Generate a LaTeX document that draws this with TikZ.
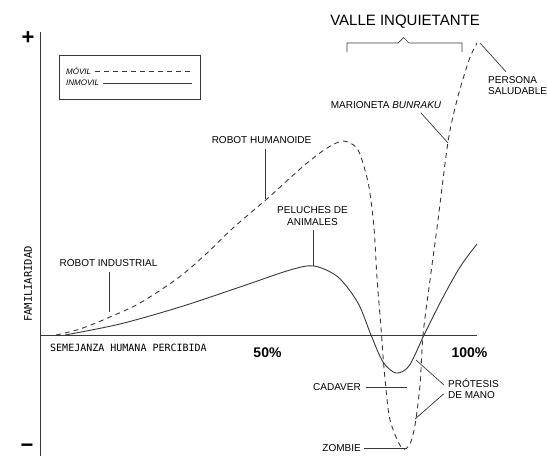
\documentclass[tikz,border=0pt]{standalone}
\usepackage{fontspec}
\setmainfont{Liberation Sans}
\setmonofont{DejaVu Sans Mono}
\definecolor{ink}{gray}{0.22}

\begin{document}
\begin{tikzpicture}[x=1pt,y=-1pt,
    tag/.style={font=\fontsize{10}{11.5}\selectfont,inner sep=2pt},
    pointer/.style={draw=ink,line width=0.7pt,shorten <=3pt},
    axis/.style={draw=ink,line width=1pt},
    movil/.style={draw=ink,line width=0.9pt,dash pattern=on 5pt off 4pt},
    inmovil/.style={draw=ink,line width=0.9pt},
    pct/.style={font=\fontsize{14}{14}\selectfont\bfseries,inner sep=0pt},
    mono/.style={font=\ttfamily\fontsize{10}{10}\selectfont,inner sep=0pt}]
  \useasboundingbox (0,0) rectangle (548,456);

  % axes
  \coordinate (o) at (40,335);
  \coordinate (ytop) at (40,32);
  \coordinate (ybot) at (40,456);
  \coordinate (xend) at (477,335);
  \draw[axis] (ytop) -- (ybot);
  \draw[axis] (o) -- (xend);
  \node[font=\fontsize{22}{22}\selectfont\bfseries,inner sep=0pt] (plus) at (28,38) {+};
  \node[font=\fontsize{22}{22}\selectfont\bfseries,inner sep=0pt] (minus) at (27,448) {−};
  \node[mono,anchor=west] (xlabel) at (50,348) {SEMEJANZA HUMANA PERCIBIDA};
  \node[mono,font=\ttfamily\fontsize{10.5}{10.5}\selectfont,rotate=90] (ylabel) at (28,284) {FAMILIARIDAD};
  \node[pct] (half) at (267.5,353) {50\%};
  \node[pct] (full) at (469.5,353) {100\%};

  % legend
  \draw[ink,line width=0.8pt] (59,55) rectangle (200,99);
  \node[font=\fontsize{8}{8}\selectfont\itshape,anchor=west,inner sep=0pt] (lmov) at (66,71) {MÓVIL};
  \node[font=\fontsize{8}{8}\selectfont\itshape,anchor=west,inner sep=0pt] (linm) at (66,83) {INMOVIL};
  \coordinate (lmov-end) at (192,71);
  \coordinate (linm-end) at (192,83);
  \draw[movil,line width=0.7pt] ([xshift=4pt]lmov.east) -- (lmov-end);
  \draw[inmovil,line width=0.7pt] ([xshift=4pt]linm.east) -- (linm-end);

  % curves
  \draw[movil] plot[smooth] coordinates {(56,335) (80,329) (110,317) (140,303)
    (178,278) (205,255) (233,228) (268,198) (290,178) (307,163) (327,148) (343,141)
    (356,147) (362,160) (369,187) (374,228) (377,278) (381,328) (384,368) (389,415)
    (396,437) (403,449) (410,444) (415,425) (420,385) (423,335) (430,280) (437,228)
    (448,142) (457,100) (469,60) (477,43)};
  \draw[inmovil] plot[smooth] coordinates {(65,335) (120,324) (180,307) (240,287)
    (290,270) (314,266) (338,277) (358,303) (371,335) (383,362) (396,373) (409,366)
    (424,335) (441,301) (460,267) (477,244)};

  % valle
  \node[font=\fontsize{15}{15}\selectfont] (valle) at (405,22) {VALLE INQUIETANTE};
  \draw[pointer,shorten <=0pt] (347,52) -- (347,43) -- (398,43) -- (403.5,37.5)
    -- (409,43) -- (462,43) -- (462,52);

  % labels
  \node[tag] (indus) at (108.5,263) {ROBOT INDUSTRIAL};
  \coordinate (indus-tip) at (109,312);
  \draw[pointer] (indus.south -| indus-tip) -- (indus-tip);

  \node[tag] (human) at (261.5,140) {ROBOT HUMANOIDE};
  \coordinate (human-tip) at (265,199);
  \draw[pointer] (human.south -| human-tip) -- (human-tip);

  \node[tag,align=center] (peluche) at (312.5,216) {PELUCHES DE\\ANIMALES};
  \coordinate (peluche-tip) at (313,266);
  \draw[pointer] (peluche.south -| peluche-tip) -- (peluche-tip);

  \node[tag] (bunraku) at (386,105) {MARIONETA \textit{BUNRAKU}};
  \coordinate (bunraku-tip) at (448,143);
  \draw[pointer] ([xshift=33pt]bunraku.south) -- (bunraku-tip);

  \node[tag,align=left,anchor=north west] (persona) at (486,74) {PERSONA\\SALUDABLE};
  \coordinate (persona-tip) at (480,43);
  \draw[pointer] ([xshift=22pt]persona.north west) -- (persona-tip);

  \node[tag,anchor=east] (cadaver) at (363,387) {CADAVER};
  \coordinate (cadaver-tip) at (407,387);
  \draw[pointer] (cadaver.east) -- (cadaver-tip);

  \node[tag,anchor=east] (zombie) at (363,448) {ZOMBIE};
  \coordinate (zombie-tip) at (407,448);
  \draw[pointer,shorten <=1pt] (zombie.east) -- (zombie-tip);

  \node[tag,align=left,anchor=north west] (protesis) at (446,376.5) {PRÓTESIS\\DE MANO};
  \coordinate (protesis-tip1) at (416,360);
  \coordinate (protesis-tip2) at (415,419);
  \draw[pointer] ([yshift=2pt]protesis.west) -- (protesis-tip1);
  \draw[pointer] ([yshift=-3pt]protesis.west) -- (protesis-tip2);
\end{tikzpicture}
\end{document}
